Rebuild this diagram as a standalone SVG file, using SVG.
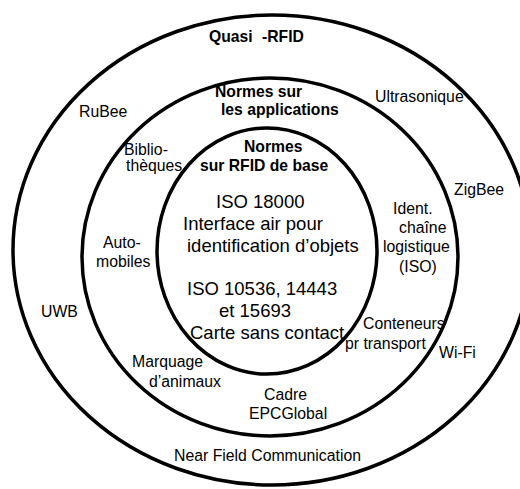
<svg xmlns="http://www.w3.org/2000/svg" width="520" height="489" viewBox="0 0 520 489">
<style>
.ring{fill:none;stroke:#000;stroke-width:3.5}
text{font-family:"Liberation Sans",Arial,sans-serif;fill:#000}
.b{font-weight:bold;font-size:15.7px}
.s{font-size:15.8px}
.m{font-size:18.5px}
</style>
<rect width="520" height="489" fill="#fff"/>
<g id="quasi-rfid">
<ellipse class="ring" cx="272" cy="250" rx="259" ry="235"/>
<text class="b" x="209" y="42">Quasi <tspan x="262">-RFID</tspan></text>
<text class="s" x="79" y="117">RuBee</text>
<text class="s" x="375" y="102">Ultrasonique</text>
<text class="s" x="454" y="195">ZigBee</text>
<text class="s" x="41" y="317">UWB</text>
<text class="s" x="439" y="358">Wi-Fi</text>
<text class="s" x="174" y="461">Near Field Communication</text>
</g>
<g id="normes-applications">
<ellipse class="ring" cx="270" cy="257" rx="188" ry="179"/>
<text class="b" x="215" y="97">Normes sur</text>
<text class="b" x="221" y="115">les applications</text>
<text class="s" x="124" y="155">Biblio-</text>
<text class="s" x="126" y="171">thèques</text>
<text class="s" x="103" y="248">Auto-</text>
<text class="s" x="96" y="267">mobiles</text>
<text class="s" x="393" y="214">Ident.</text>
<text class="s" x="399" y="233">chaîne</text>
<text class="s" x="383" y="252">logistique</text>
<text class="s" x="399" y="272">(ISO)</text>
<text class="s" x="363" y="329">Conteneurs</text>
<text class="s" x="345" y="349">pr transport</text>
<text class="s" x="132" y="367">Marquage</text>
<text class="s" x="149" y="387">d’animaux</text>
<text class="s" x="264" y="400">Cadre</text>
<text class="s" x="249" y="419">EPCGlobal</text>
</g>
<g id="normes-rfid-base">
<ellipse class="ring" cx="267" cy="251" rx="110" ry="123"/>
<text class="b" x="244" y="152">Normes</text>
<text class="b" x="200" y="171">sur RFID de base</text>
<text class="m" x="216" y="208">ISO 18000</text>
<text class="m" x="183" y="230">Interface air pour</text>
<text class="m" x="187" y="252">identification d’objets</text>
<text class="m" x="187" y="295">ISO 10536, 14443</text>
<text class="m" x="219" y="317">et 15693</text>
<text class="m" x="190" y="339">Carte sans contact</text>
</g>
</svg>
